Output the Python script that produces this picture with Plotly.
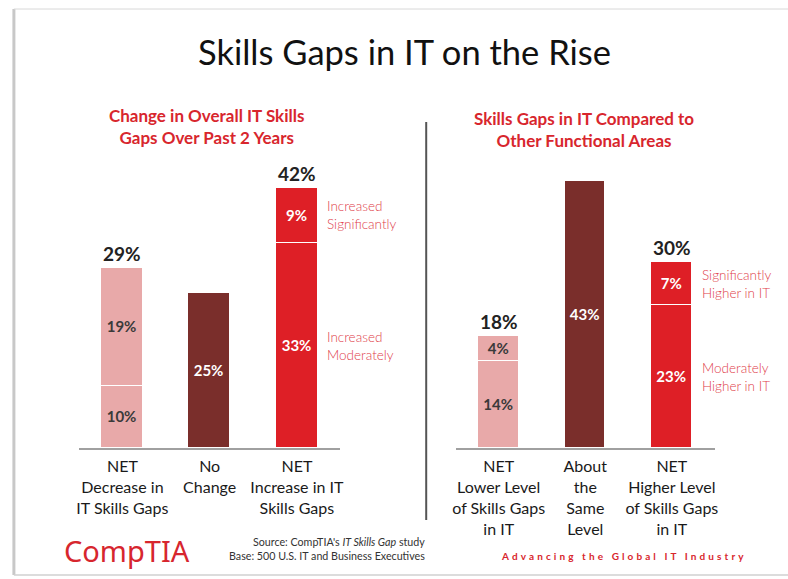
import plotly.graph_objects as go

# ---------------- data ----------------
left_categories = ["NET<br>Decrease in<br>IT Skills Gaps", "No<br>Change", "NET<br>Increase in IT<br>Skills Gaps"]
left_lower = [10, 25, 33]
left_upper = [19, None, 9]
left_totals = [29, None, 42]
left_upper_notes = ["Increased<br>Significantly"]
left_lower_notes = ["Increased<br>Moderately"]

right_categories = ["NET<br>Lower Level<br>of Skills Gaps<br>in IT", "About<br>the<br>Same<br>Level", "NET<br>Higher Level<br>of Skills Gaps<br>in IT"]
right_lower = [14, 43, 23]
right_upper = [4, None, 7]
right_totals = [18, None, 30]
right_upper_notes = ["Significantly<br>Higher in IT"]
right_lower_notes = ["Moderately<br>Higher in IT"]

# ---------------- style ----------------
W, H = 788, 579
PINK = "#E8A9A9"
MAROON = "#7A2E2B"
RED = "#DE1F26"
bar_colors = [PINK, MAROON, RED]
text_colors = ["#3a3a3a", "white", "white"]
FONT = "Lato"
NOTE_RED = "#E0404A"
SUB_RED = "#D8262D"

def px(x):
    return x / W

def py(y):
    return 1 - y / H

fig = go.Figure()

def add_chart(cats, lower, upper, xa, ya):
    idx = list(range(len(cats)))
    for vals in (lower, upper):
        fig.add_trace(go.Bar(
            x=idx, y=vals, width=0.48,
            marker=dict(color=bar_colors, line=dict(color="white", width=1.5)),
            text=[f"{v}%" if v is not None else "" for v in vals], textposition="inside",
            insidetextanchor="middle", textangle=0, constraintext="none",
            textfont=dict(family=FONT, size=15, color=text_colors, weight="bold"),
            xaxis=xa, yaxis=ya, showlegend=False, hoverinfo="skip",
        ))

add_chart(left_categories, left_lower, left_upper, "x", "y")
add_chart(right_categories, right_lower, right_upper, "x2", "y2")

ydom = [py(448), py(138)]
axis_x_common = dict(
    range=[-0.494, 2.494], showgrid=False, zeroline=False, showline=True,
    linecolor="#a0a0a0", linewidth=2, ticks="", fixedrange=True,
    tickfont=dict(family=FONT, size=16, color="#1a1a1a"),
    tickvals=[0, 1, 2], ticklabelstandoff=3,
)
axis_y_common = dict(range=[0, 50], domain=ydom, visible=False, fixedrange=True)

fig.update_layout(
    width=W, height=H,
    margin=dict(l=0, r=0, t=0, b=0),
    paper_bgcolor="white", plot_bgcolor="rgba(0,0,0,0)",
    barmode="stack", bargap=0,
    xaxis=dict(**axis_x_common, domain=[px(77), px(340)], ticktext=left_categories, anchor="y"),
    yaxis=dict(**axis_y_common, anchor="x"),
    xaxis2=dict(**axis_x_common, domain=[px(457), px(718)], ticktext=right_categories, anchor="y2"),
    yaxis2=dict(**axis_y_common, anchor="x2"),
)

ann = []
# totals
for xr, yr, totals in (("x", "y", left_totals), ("x2", "y2", right_totals)):
    for i, t in enumerate(totals):
        if t is not None:
            ann.append(dict(x=i, y=t, xref=xr, yref=yr, text=f"<b>{t}%</b>", showarrow=False,
                            xanchor="center", yanchor="bottom", yshift=1,
                            font=dict(family=FONT, size=19, color="#222")))

# side notes for the third bar
for xr, yr, lower, upper, un, ln in (("x", "y", left_lower, left_upper, left_upper_notes, left_lower_notes),
                                     ("x2", "y2", right_lower, right_upper, right_upper_notes, right_lower_notes)):
    ann.append(dict(x=2.24, y=lower[2] + upper[2] / 2, xref=xr, yref=yr, text=un[0], showarrow=False,
                    xanchor="left", yanchor="middle", align="left", xshift=7,
                    font=dict(family=FONT, size=13.5, color=NOTE_RED, weight=300)))
    ann.append(dict(x=2.24, y=lower[2] / 2, xref=xr, yref=yr, text=ln[0], showarrow=False,
                    xanchor="left", yanchor="middle", align="left", xshift=7,
                    font=dict(family=FONT, size=13.5, color=NOTE_RED, weight=300)))

# title & subtitles
ann.append(dict(x=px(405), y=py(52), xref="paper", yref="paper", text="Skills Gaps in IT on the Rise",
                xanchor="center", yanchor="middle",
                showarrow=False, font=dict(family=FONT, size=34.5, color="#111")))
ann.append(dict(x=px(205), y=py(127), xref="paper", yref="paper",
                text="<b>Change in Overall IT Skills<br>Gaps Over Past 2 Years</b>",
                xanchor="center", yanchor="middle",
                showarrow=False, font=dict(family=FONT, size=17, color=SUB_RED)))
ann.append(dict(x=px(586), y=py(129), xref="paper", yref="paper",
                text="<b>Skills Gaps in IT Compared to<br>Other Functional Areas</b>",
                xanchor="center", yanchor="middle",
                showarrow=False, font=dict(family=FONT, size=17, color=SUB_RED)))

# footer
ann.append(dict(x=px(60), y=py(550), xref="paper", yref="paper", text="CompTIA",
                xanchor="left", yanchor="middle",
                showarrow=False, font=dict(family="Noto Sans", size=29, color="#D7262E")))
ann.append(dict(x=px(428), y=py(548), xref="paper", yref="paper", xanchor="right", yanchor="middle",
                align="right",
                text="Source: CompTIA's <i>IT Skills Gap</i> study<br>Base: 500 U.S. IT and Business Executives",
                showarrow=False, font=dict(family=FONT, size=10.7, color="#333")))
ann.append(dict(x=px(627), y=py(556), xref="paper", yref="paper", xanchor="center", yanchor="middle",
                text='<span style="letter-spacing:3.1px"><b>Advancing the Global IT Industry</b></span>',
                showarrow=False, font=dict(family=FONT, size=10, color=SUB_RED)))

fig.update_layout(annotations=ann)

# slide frame and divider
fig.add_shape(type="line", xref="paper", yref="paper", x0=px(427), x1=px(427), y0=py(122), y1=py(520),
              line=dict(color="#555", width=2))
fig.add_shape(type="line", xref="paper", yref="paper", x0=px(11), x1=px(11), y0=py(9), y1=py(575),
              line=dict(color="#c8c8c8", width=3))
fig.add_shape(type="line", xref="paper", yref="paper", x0=px(11), x1=1.01, y0=py(9), y1=py(9),
              line=dict(color="#d8d8d8", width=1))
fig.add_shape(type="line", xref="paper", yref="paper", x0=px(11), x1=1.01, y0=py(575), y1=py(575),
              line=dict(color="#d0d0d0", width=1.5))

fig.write_html("out.html", config={"displayModeBar": False},
               post_script="document.body.style.margin='0';")
